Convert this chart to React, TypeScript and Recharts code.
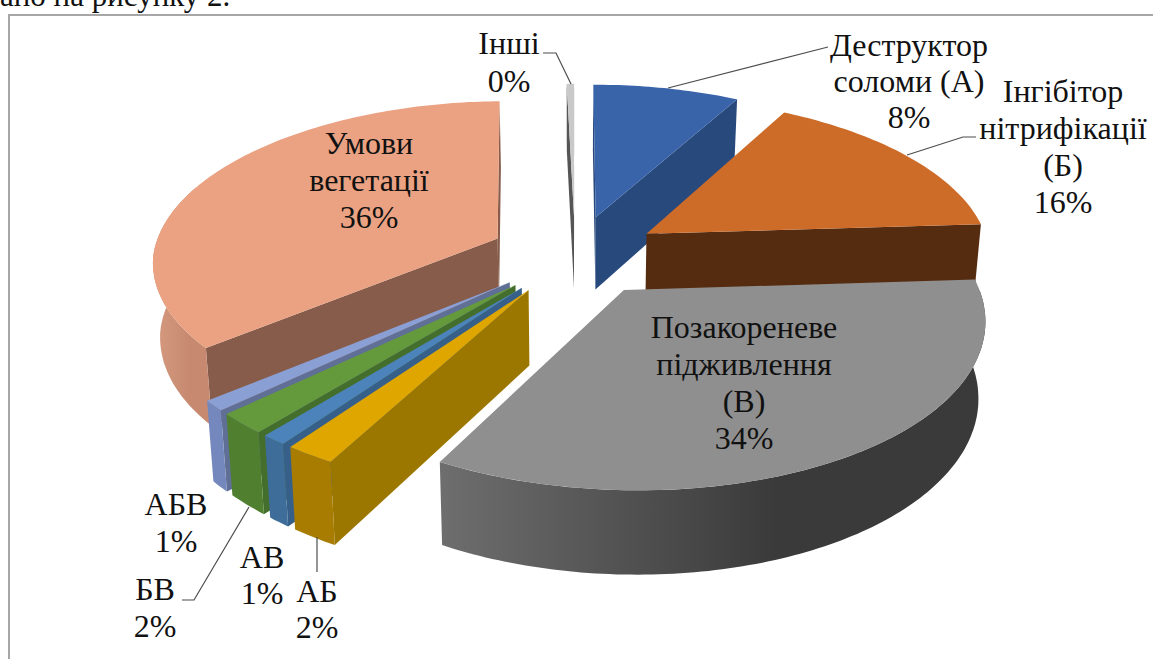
import { Pie, PieChart } from "recharts";

const names = ["Деструктор соломи (А)", "Інгібітор нітрифікації (Б)", "Позакореневе підживлення (В)", "АБ", "АВ", "БВ", "АБВ", "Умови вегетації", "Інші"];
const values = [8, 16, 34, 2, 1, 2, 1, 35.6, 0.4];
const topColors = ["#3a64aa", "#cd6b28", "#8f8f8f", "#dfa600", "#4c83ba", "#659a3c", "#8a9fd4", "#eba282", "#c9c9c9"];
const wallColors = [["#28497c", "#28497c"], ["#562c10", "#562c10"], ["#6e6e6e", "#3a3a3a"], ["#a87c00", "#a87c00"], ["#3f6d99", "#3f6d99"], ["#4f7f2f", "#4f7f2f"], ["#7488bd", "#7488bd"], ["#d59a80", "#c78a70"], ["#777777", "#777777"]];
const faceColors = ["#28497c", "#562c10", "#5a5a5a", "#9c7700", "#36608a", "#446e2b", "#5f6f96", "#875c4a", "#555555"];
const labelLines = [["Деструктор", "соломи (А)"], ["Інгібітор", "нітрифікації", "(Б)"], ["Позакореневе", "підживлення", "(В)"], ["АБ"], ["АВ"], ["БВ"], ["АБВ"], ["Умови", "вегетації"], ["Інші"]];

// label centre x, first baseline y, line step
const labelSpots = [[909, 56, 36], [1063, 102, 37], [744, 338, 37], [317, 602, 36], [262, 568, 36], [155, 600, 37], [176, 515, 37], [369, 154, 37], [509, 54, 38]];
const leaders: (string | null)[] = ["668,88 828,47", "907,155 963,137 976,137", null, "317,537 317,572", null, "182,600 194,600 249,507", null, null, "543,53 556,53 571,84"];

const pieData = names.map((name, i) => ({ name, value: values[i], idx: i })).reverse();
// painted back to front, one Pie per layer
const layers = [[0], [1, 7, 8], [2, 3, 4, 5, 6]];

const CX = 575;
const CY = 255;
const RADIUS = 345;
const TILT = 0.467;
const PERSPECTIVE = 0.141;
const EXPLODE = 0.25;
const DEPTH = 74;
const rad = Math.PI / 180;

function makeSlice(props: any) {
    const t1raw = 90 - props.endAngle;
    const shift = t1raw < 0 ? 360 : 0;
    const t1 = t1raw + shift;
    const t2 = 90 - props.startAngle + shift;
    const mid = ((t1 + t2) / 2) * rad;
    const ou = EXPLODE * Math.sin(mid);
    const ov = EXPLODE * Math.cos(mid);
    const project = (u: number, v: number) => {
        const w = 1 + PERSPECTIVE * v;
        return {
            x: CX + (u * RADIUS) / w + (v < 0 ? -v * 6 : 0),
            y: CY - (v * RADIUS * TILT) / w,
            d: DEPTH / Math.pow(w, 0.7),
        };
    };
    const rim = (t: number) => project(ou + Math.sin(t * rad), ov + Math.cos(t * rad));
    return { t1, t2, apex: project(ou, ov), rim };
}

const toPath = (pts: { x: number; y: number }[]) =>
    "M" + pts.map((p) => `${p.x.toFixed(1)} ${p.y.toFixed(1)}`).join("L") + "Z";

function sliceShape(props: any, layer: number[]) {
    const idx: number = props.idx ?? props.payload?.idx;
    if (!layer.includes(idx)) return <g />;

    const { t1, t2, apex, rim } = makeSlice(props);
    const arc: { x: number; y: number; d: number }[] = [];
    const steps = Math.max(2, Math.ceil(t2 - t1));
    for (let i = 0; i <= steps; i++) arc.push(rim(t1 + ((t2 - t1) * i) / steps));

    const middle = rim((t1 + t2) / 2);
    // lower plane sits a little further away, so it pulls in towards the centre
    const down = (p: { x: number; y: number; d: number }) => ({ x: CX + (p.x - CX) * 0.983, y: p.y + p.d });
    const faces = [arc[0], arc[arc.length - 1]].filter((b) => {
        const ex = b.x - apex.x;
        const ey = b.y - apex.y;
        const inner = ex * (middle.y - apex.y) - ey * (middle.x - apex.x);
        return Math.sign(ex) !== Math.sign(inner);
    });

    // the outer wall shows on the half facing the viewer; run past 270 so the left edge stays a curve
    const from = Math.max(t1, 90);
    const to = Math.min(t2, 290);
    const wall: { x: number; y: number; d: number }[] = [];
    if (to > from) {
        const n = Math.max(2, Math.ceil(to - from));
        for (let i = 0; i <= n; i++) wall.push(rim(from + ((to - from) * i) / n));
    }
    const gradId = `wall-${idx}`;

    return (
        <g>
            <defs>
                <linearGradient id={gradId} x1="0" y1="0" x2="1" y2="0">
                    <stop offset="0%" stopColor={wallColors[idx][0]} />
                    <stop offset="62%" stopColor={wallColors[idx][1]} />
                    <stop offset="100%" stopColor={wallColors[idx][1]} />
                </linearGradient>
            </defs>
            {faces.map((b, i) => (
                <path key={i} d={toPath([apex, b, down(b), down(apex)])} fill={faceColors[idx]} />
            ))}
            {wall.length > 0 && (
                <path d={toPath([...wall, ...wall.map(down).reverse()])} fill={`url(#${gradId})`} />
            )}
            <path d={toPath([apex, ...arc])} fill={topColors[idx]} />
        </g>
    );
}

function sliceLabel(props: any) {
    const idx: number = props.idx ?? props.payload?.idx;
    const [x, y, step] = labelSpots[idx];
    const lines = [...labelLines[idx], `${Math.round(values[idx])}%`];
    return (
        <g key={idx}>
            {leaders[idx] && <polyline points={leaders[idx] as string} fill="none" stroke="#4d4d4d" strokeWidth={1.2} />}
            <text x={x} y={y} textAnchor="middle" fontFamily="Liberation Serif" fontSize={32} fill="#111111">
                {lines.map((line, i) => (
                    <tspan key={i} x={x} y={y + i * step}>
                        {line}
                    </tspan>
                ))}
            </text>
        </g>
    );
}

export default function App() {
    return (
        <div style={{ position: "absolute", left: 0, top: 0, width: 1153, height: 659, overflow: "hidden", background: "#fff" }}>
            <div style={{ position: "absolute", left: 0, top: -22, fontFamily: "Liberation Serif", fontSize: 31, color: "#111", whiteSpace: "nowrap" }}>
                ано на рисунку 2.
            </div>
            <div style={{ position: "absolute", left: 8, top: 14, width: 1145, height: 645, borderTop: "2px solid #a6a6a6", borderLeft: "2px solid #a6a6a6", boxSizing: "border-box" }} />
            <div style={{ position: "absolute", left: 0, top: 0 }}>
                <PieChart width={1153} height={659} margin={{ top: 0, right: 0, bottom: 0, left: 0 }}>
                    {layers.map((layer, i) => (
                        <Pie
                            key={i}
                            data={pieData}
                            dataKey="value"
                            nameKey="name"
                            cx={CX}
                            cy={CY}
                            outerRadius={RADIUS}
                            startAngle={90}
                            endAngle={450}
                            stroke="none"
                            isAnimationActive={false}
                            shape={(p: any) => sliceShape(p, layer)}
                            label={i === layers.length - 1 ? sliceLabel : false}
                            labelLine={false}
                        />
                    ))}
                </PieChart>
            </div>
        </div>
    );
}
